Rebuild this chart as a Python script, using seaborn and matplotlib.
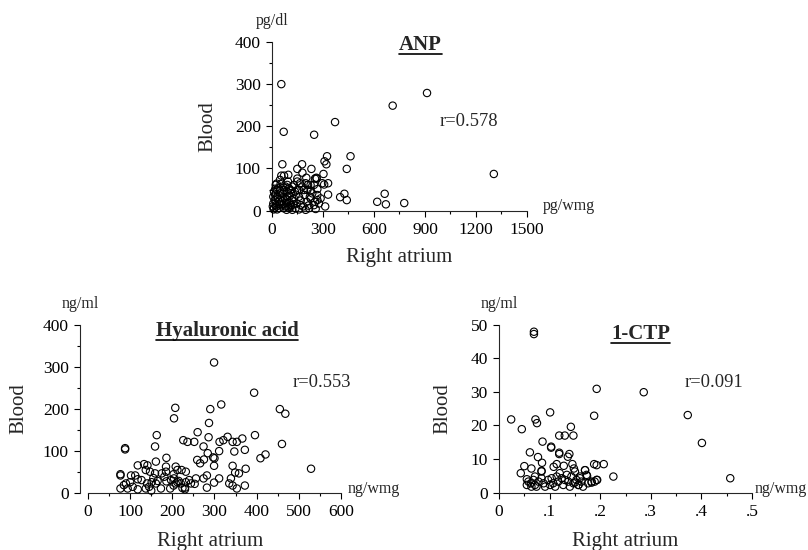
import numpy as np
import seaborn as sns
import matplotlib.pyplot as plt
from matplotlib.lines import Line2D
from matplotlib.ticker import MultipleLocator

# ANP: right atrium (pg/wmg) vs blood (pg/dl)
anp_atrium = [55, 69, 248, 371, 710, 912, 1305, 324, 462, 320, 309, 440, 303,
              61, 177, 149, 232, 330, 307, 330, 401, 426, 440, 619, 663, 670, 778, 313,
              261, 202, 179, 55, 71, 96, 27, 51, 90, 129, 165, 212, 247, 296,
              31, 71, 110, 149, 188, 227, 267, 267, 223, 253, 214, 169, 149, 253, 263,
              12, 22, 16, 31, 41, 27, 51, 61, 71, 80, 67, 90, 100, 110, 114, 129, 139,
              145, 159, 169, 184, 192, 204, 218, 227, 237, 247, 267, 276, 286, 37, 47,
              80, 94, 120, 159, 178, 198, 8, 8, 12, 22, 86, 100, 135, 149, 208, 227,
              41, 55, 86, 102, 120, 159, 198, 257, 5, 10, 18, 35, 45, 58, 63, 75, 85,
              95, 105, 118, 125, 48, 68, 30, 20, 88, 110, 140]
anp_blood = [300, 187, 180, 210, 249, 279, 87, 129, 129, 110, 117, 99, 87,
             110, 110, 99, 99, 65, 62, 38, 32, 40, 25, 21, 40, 15, 18, 10,
             78, 78, 90, 83, 83, 85, 64, 63, 61, 61, 65, 61, 61, 65,
             49, 49, 49, 49, 49, 48, 51, 25, 33, 21, 12, 13, 76, 76, 76,
             6, 13, 25, 33, 21, 10, 41, 29, 17, 10, 6, 33, 21, 41, 13, 29, 6,
             17, 33, 24, 10, 37, 21, 6, 29, 41, 13, 37, 17, 29, 53, 73,
             57, 69, 57, 49, 57, 65, 17, 33, 45, 61, 45, 53, 45, 69, 49, 61,
             6, 13, 2, 6, 2, 3, 2, 4, 10, 3, 38, 28, 15, 22, 40, 30, 18,
             8, 35, 25, 15, 48, 55, 3, 52, 26, 10, 38]

# Hyaluronic acid: right atrium (ng/wmg) vs blood (ng/ml)
ha_atrium = [299, 394, 207, 204, 290, 316, 287, 455, 468, 396, 460, 529, 163, 159,
             88, 88, 226, 236, 252, 260, 286, 274, 312, 321, 331, 343, 353, 366, 372,
             311, 284, 297, 300, 259, 266, 275, 299, 347, 409, 421, 343, 349, 358, 374,
             339, 335, 343, 353, 372, 311, 299, 282, 274, 282, 256, 253, 186, 185, 161,
             118, 133, 141, 137, 147, 159, 175, 185, 208, 212, 222, 232, 203, 77, 77,
             102, 112, 118, 90, 77, 94, 106, 118, 137, 145, 140, 151, 161, 173, 186,
             195, 203, 208, 212, 220, 224, 230, 232, 244, 181, 204, 127, 155, 165, 197,
             215, 240, 150, 230, 100, 85]
ha_blood = [310, 238, 202, 177, 199, 210, 166, 199, 188, 137, 116, 57, 137, 110,
            106, 103, 125, 121, 121, 144, 132, 110, 121, 125, 133, 121, 121, 129, 102,
            99, 94, 84, 82, 78, 70, 79, 64, 98, 82, 91, 64, 48, 46, 57,
            34, 22, 17, 10, 17, 34, 24, 41, 34, 12, 34, 21, 83, 62, 74,
            65, 68, 65, 54, 50, 46, 46, 50, 62, 54, 54, 50, 44, 44, 41,
            41, 41, 32, 22, 10, 10, 14, 8, 10, 14, 22, 25, 22, 10, 27,
            10, 17, 22, 25, 22, 11, 8, 25, 22, 38, 34, 30, 35, 28, 30,
            28, 30, 5, 12, 25, 18]

# 1-CTP: right atrium (ng/wmg) vs blood (ng/ml)
ctp_atrium = [0.069, 0.069, 0.024, 0.045, 0.072, 0.075, 0.101, 0.193, 0.286, 0.188,
              0.373, 0.401, 0.457, 0.142, 0.119, 0.130, 0.147, 0.086, 0.103, 0.103,
              0.119, 0.119, 0.139, 0.136, 0.061, 0.077, 0.085, 0.114, 0.108, 0.128,
              0.145, 0.148, 0.188, 0.193, 0.207, 0.226, 0.050, 0.043, 0.064, 0.084,
              0.170, 0.174, 0.194, 0.183, 0.160, 0.157, 0.150,
              0.055, 0.058, 0.063, 0.068, 0.071, 0.074, 0.078, 0.084, 0.084, 0.088,
              0.091, 0.097, 0.101, 0.104, 0.107, 0.111, 0.114, 0.117, 0.120, 0.124,
              0.127, 0.130, 0.134, 0.137, 0.140, 0.143, 0.147, 0.150, 0.153, 0.157,
              0.160, 0.163, 0.166, 0.170, 0.173, 0.176, 0.183, 0.189, 0.193, 0.055,
              0.064, 0.071]
ctp_blood = [47.9, 47.2, 21.8, 18.9, 21.8, 20.7, 23.9, 30.9, 29.9, 22.9,
             23.1, 14.8, 4.3, 19.6, 17.0, 17.0, 17.0, 15.2, 13.7, 13.4,
             11.9, 11.5, 11.5, 10.7, 12.0, 10.6, 8.9, 8.5, 7.7, 8.0,
             8.5, 7.2, 8.5, 8.2, 8.5, 4.8, 7.9, 5.8, 7.2, 6.5,
             6.7, 5.0, 3.8, 3.0, 4.3, 2.3, 3.0,
             4.0, 3.3, 2.8, 3.8, 2.3, 1.8, 3.3, 4.3, 6.3, 2.8,
             1.8, 3.8, 2.3, 4.3, 2.8, 1.8, 4.8, 3.3, 5.8, 4.3,
             2.3, 3.8, 5.3, 3.3, 1.8, 4.8, 2.8, 6.3, 3.8, 2.3,
             4.8, 3.3, 1.8, 6.7, 5.3, 2.8, 3.3, 3.3, 3.8, 2.3,
             1.8, 4.8]

sns.set_style("ticks")
plt.rcParams['font.family'] = ['Liberation Serif', 'DejaVu Serif']

fig = plt.figure(figsize=(8.08, 5.5), dpi=100)

panels = [
    dict(rect=[0.3366, 0.617, 0.3156, 0.3067], x=anp_atrium, y=anp_blood,
         title='ANP', title_pos=(0.583, 0.953), r='r=0.578', r_pos=(0.773, 0.526),
         yunit='pg/dl', xunit='pg/wmg', xunit_dx=16, xlim=(0, 1500), ylim=(0, 400),
         xmaj=300, xmin=150, ymaj=100, ymin=50, xlabels=None, ylab_x=-0.216,
         xlab_y=-0.222),
    dict(rect=[0.099, 0.1042, 0.323, 0.3055], x=ha_atrium, y=ha_blood,
         title='Hyaluronic acid', title_pos=(0.563, 0.933), r='r=0.553', r_pos=(0.927, 0.656),
         yunit='ng/ml', xunit='ng/wmg', xunit_dx=7, xlim=(-19, 600), ylim=(0, 400),
         xmaj=100, xmin=50, ymaj=100, ymin=50, xlabels=None, ylab_x=-0.199,
         xlab_y=-0.235),
    dict(rect=[0.6176, 0.1042, 0.3131, 0.3055], x=ctp_atrium, y=ctp_blood,
         title='1-CTP', title_pos=(0.561, 0.914), r='r=0.091', r_pos=(0.85, 0.656),
         yunit='ng/ml', xunit='ng/wmg', xunit_dx=3, xlim=(0, 0.5), ylim=(0, 50),
         xmaj=0.1, xmin=0.05, ymaj=10, ymin=None,
         xlabels=['0', '.1', '.2', '.3', '.4', '.5'], ylab_x=-0.186,
         xlab_y=-0.235),
]

titles = []
for p in panels:
    ax = fig.add_axes(p['rect'])
    sns.scatterplot(x=p['x'], y=p['y'], ax=ax, s=28, marker='o',
                    facecolor='none', edgecolor='black', linewidth=0.8,
                    clip_on=False, zorder=3)
    ax.set_xlim(*p['xlim'])
    ax.set_ylim(*p['ylim'])
    ax.spines['top'].set_visible(False)
    ax.spines['right'].set_visible(False)
    for s in ['left', 'bottom']:
        ax.spines[s].set_linewidth(0.8)
    ax.spines['bottom'].set_bounds(max(p['xlim'][0], 0), p['xlim'][1])
    ax.xaxis.set_major_locator(MultipleLocator(p['xmaj']))
    ax.xaxis.set_minor_locator(MultipleLocator(p['xmin']))
    ax.yaxis.set_major_locator(MultipleLocator(p['ymaj']))
    if p['ymin']:
        ax.yaxis.set_minor_locator(MultipleLocator(p['ymin']))
    if p['xlabels']:
        ax.set_xticks([0, 0.1, 0.2, 0.3, 0.4, 0.5])
        ax.set_xticklabels(p['xlabels'])
    if p['xlim'][0] < 0:
        ax.set_xticks(np.arange(0, 601, 100))
    ax.tick_params(which='major', direction='out', length=4, width=0.8,
                   labelsize=12.5, pad=4, color='black', labelcolor='black')
    ax.tick_params(which='minor', direction='out', length=2.5, width=0.8, color='black')
    ax.set_ylabel('Blood', fontsize=15)
    ax.set_xlabel('Right atrium', fontsize=15, va='top')
    ax.yaxis.set_label_coords(p['ylab_x'], 0.5)
    ax.xaxis.set_label_coords(0.5, p['xlab_y'])
    # units above the y axis and at the end of the x axis
    ax.annotate(p['yunit'], xy=(0.0, 1.0), xycoords='axes fraction',
                xytext=(0, 15), textcoords='offset points', fontsize=11.5,
                ha='center', va='center')
    ax.annotate(p['xunit'], xy=(1.0, 0.0), xycoords='axes fraction',
                xytext=(p['xunit_dx'] * 0.72, 3), textcoords='offset points',
                fontsize=11.5, ha='left', va='center')
    t = ax.text(*p['title_pos'], p['title'], transform=ax.transAxes, fontsize=15,
                fontweight='bold', ha='center', va='baseline')
    ax.text(*p['r_pos'], p['r'], transform=ax.transAxes, fontsize=13.3,
            ha='center', va='center')
    titles.append((ax, t))

# underline the panel titles
fig.canvas.draw()
inv = fig.transFigure.inverted()
for ax, t in titles:
    bb = t.get_window_extent()
    ybase = ax.transAxes.transform(t.get_position())[1] - 4
    (x0, y0), (x1, _) = inv.transform([(bb.x0, ybase), (bb.x1, ybase)])
    fig.add_artist(Line2D([x0, x1], [y0, y0], transform=fig.transFigure,
                          color='black', linewidth=1.2))

fig.savefig('out.png', dpi=100)
